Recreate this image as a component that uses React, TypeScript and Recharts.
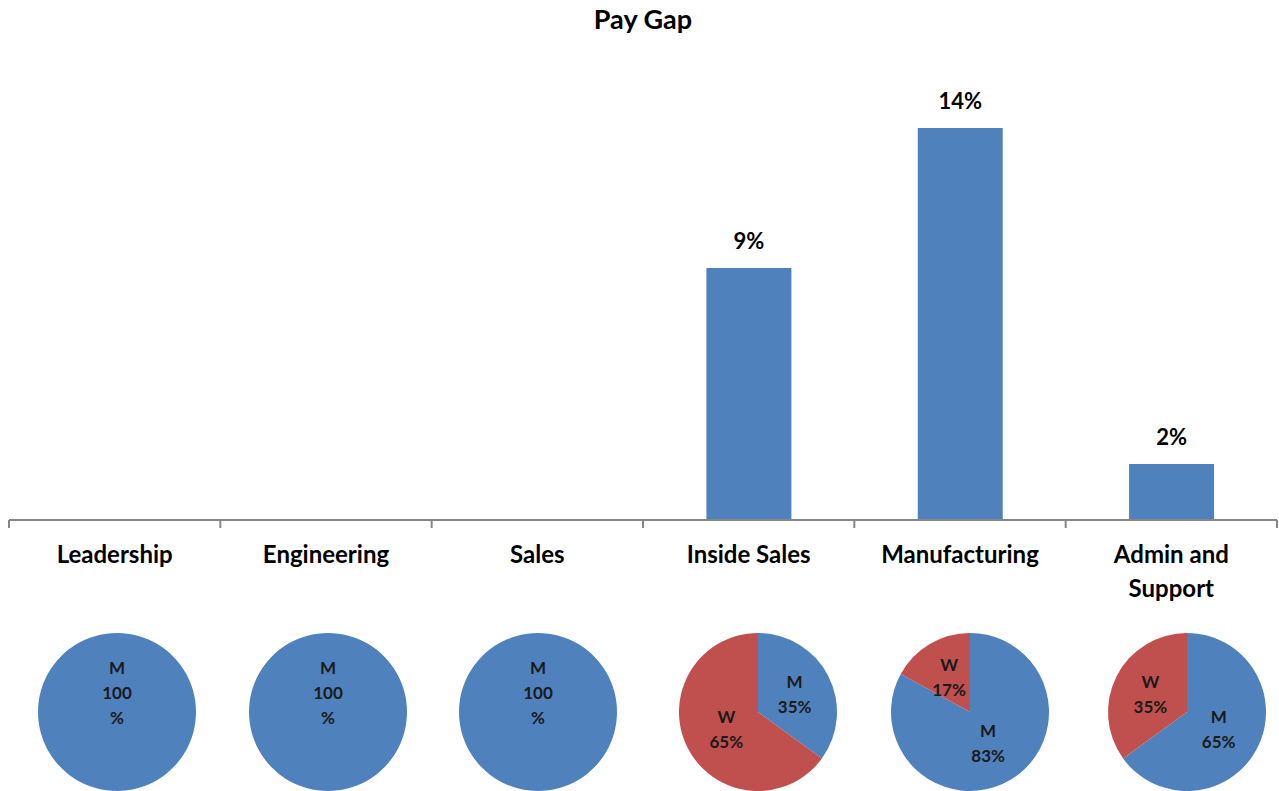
import React from 'react';
import { BarChart, Bar, XAxis, YAxis, LabelList, PieChart, Pie, Cell } from 'recharts';

const categories = ['Leadership', 'Engineering', 'Sales', 'Inside Sales', 'Manufacturing', 'Admin and Support'];
const tickLabels = [['Leadership'], ['Engineering'], ['Sales'], ['Inside Sales'], ['Manufacturing'], ['Admin and', 'Support']];
const payGap: (number | null)[] = [null, null, null, 9, 14, 2];
const menShare = [100, 100, 100, 35, 83, 65];
const womenShare = [0, 0, 0, 65, 17, 35];

// where each small pie sits (centre x), they are not perfectly evenly spaced
const pieCentersX = [117, 328, 538, 758, 970, 1187];

const BLUE = '#4F81BD';
const RED = '#C0504D';
const FONT = 'Lato, "Open Sans", sans-serif';

const barData = categories.map((c, i) => ({ category: c, gap: payGap[i] }));

function CategoryTick(props: any) {
    const { x, y, index, visibleTicksCount, width } = props;
    const band = width / visibleTicksCount;
    const left = x - band / 2;
    const lines = tickLabels[index] || [];
    return (
        <g>
            <line x1={left} x2={left} y1={y - 8} y2={y} stroke="#868686" strokeWidth={2} />
            {index === visibleTicksCount - 1 && (
                <line x1={left + band} x2={left + band} y1={y - 8} y2={y} stroke="#868686" strokeWidth={2} />
            )}
            <text x={x} y={y} textAnchor="middle" fontFamily={FONT} fontWeight="bold" fontSize={24} fill="#000">
                {lines.map((l: string, i: number) => (
                    <tspan key={i} x={x} y={y + 35 + i * 34}>{l}</tspan>
                ))}
            </text>
        </g>
    );
}

const RADIAN = Math.PI / 180;

function pieLabel(props: any) {
    const { cx, cy, midAngle, outerRadius, percent, name, value } = props;
    let lx = cx;
    let ly = cy;
    if (percent >= 0.999) {
        ly = cy - outerRadius * 0.25;
    } else {
        const r = outerRadius * (percent > 0.5 ? 0.45 : 0.52);
        lx = cx + r * Math.cos(-midAngle * RADIAN);
        ly = cy + r * Math.sin(-midAngle * RADIAN);
    }
    const lines = value === 100 ? [name, '100', '%'] : [name, `${value}%`];
    const step = 25;
    const start = ly - ((lines.length - 1) * step) / 2;
    return (
        <text textAnchor="middle" dominantBaseline="central" fontFamily={FONT} fontWeight="bold" fontSize={17} fill="#1a1a1a">
            {lines.map((l, i) => (
                <tspan key={i} x={lx} y={start + i * step}>{l}</tspan>
            ))}
        </text>
    );
}

function SmallPie({ index }: { index: number }) {
    const data = [
        { name: 'M', value: menShare[index], color: BLUE },
        { name: 'W', value: womenShare[index], color: RED },
    ].filter((d) => d.value > 0);
    return (
        <div style={{ position: 'absolute', left: pieCentersX[index] - 100, top: 622 }}>
            <PieChart width={200} height={180}>
                <Pie
                    data={data}
                    dataKey="value"
                    nameKey="name"
                    cx="50%"
                    cy="50%"
                    outerRadius={79}
                    startAngle={90}
                    endAngle={-270}
                    stroke="none"
                    label={pieLabel}
                    labelLine={false}
                    isAnimationActive={false}
                >
                    {data.map((d, i) => (
                        <Cell key={i} fill={d.color} />
                    ))}
                </Pie>
            </PieChart>
        </div>
    );
}

export default function App() {
    return (
        <div style={{ position: 'absolute', left: 0, top: 0, width: 1279, height: 791, background: '#fff' }}>
            <svg width={1279} height={40} style={{ position: 'absolute', left: 0, top: 0 }}>
                <text x={643} y={29} textAnchor="middle" fontFamily={FONT} fontWeight="bold" fontSize={27} fill="#000">
                    Pay Gap
                </text>
            </svg>
            <div style={{ position: 'absolute', left: 0, top: 0 }}>
                <BarChart width={1279} height={640} data={barData} margin={{ top: 72, right: 2, left: 9, bottom: 50 }} barCategoryGap="30%">
                    <XAxis
                        dataKey="category"
                        height={70}
                        interval={0}
                        tickLine={false}
                        tickSize={8}
                        tickMargin={0}
                        axisLine={{ stroke: '#868686', strokeWidth: 2 }}
                        tick={<CategoryTick />}
                    />
                    <YAxis hide domain={[0, 16]} />
                    <Bar dataKey="gap" fill={BLUE} isAnimationActive={false}>
                        <LabelList
                            dataKey="gap"
                            position="top"
                            offset={19}
                            formatter={(v: any) => (v == null ? '' : `${v}%`)}
                            fontFamily={FONT}
                            fontWeight="bold"
                            fontSize={22}
                            fill="#000"
                        />
                    </Bar>
                </BarChart>
            </div>
            {categories.map((_, i) => (
                <SmallPie key={i} index={i} />
            ))}
        </div>
    );
}
